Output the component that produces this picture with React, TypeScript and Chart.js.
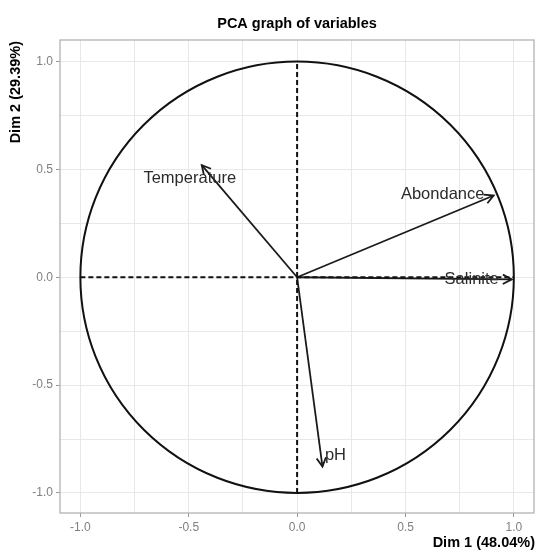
import { useEffect, useRef } from "react";
import { Chart, registerables } from "chart.js";

Chart.register(...registerables);

// ---- data ----
const variables = ["Temperature", "Abondance", "Salinite", "pH"];
const dim1 = [-0.44, 0.907, 0.99, 0.117];
const dim2 = [0.52, 0.379, -0.01, -0.878];
const gridValues = [-1, -0.75, -0.5, -0.25, 0, 0.25, 0.5, 0.75, 1];
const tickLabelValues = [-1, -0.5, 0, 0.5, 1];
const chartTitle = "PCA graph of variables";
const xTitle = "Dim 1 (48.04%)";
const yTitle = "Dim 2 (29.39%)";

// ---- styles (pixel offsets of each label from its arrow tip) ----
const labelStyle = [
  { dx: -12, dy: 13, align: "center" },
  { dx: -51, dy: -1, align: "center" },
  { dx: -40, dy: 0, align: "center" },
  { dx: 13, dy: -11, align: "center" },
];

const FONT = '"Liberation Sans", Arial, Helvetica, sans-serif';

export default function App() {
  const ref = useRef<HTMLCanvasElement>(null);

  useEffect(() => {
    const canvas = ref.current!;
    const lineBase = {
      showLine: true,
      pointRadius: 0,
      pointHoverRadius: 0,
      fill: false,
      tension: 0,
    };
    const datasets: any[] = [
      {
        ...lineBase,
        data: [
          { x: -1, y: 0 },
          { x: 1, y: 0 },
        ],
        borderColor: "#111",
        borderWidth: 2,
        borderDash: [5, 3],
      },
      {
        ...lineBase,
        data: [
          { x: 0, y: -1 },
          { x: 0, y: 1 },
        ],
        borderColor: "#111",
        borderWidth: 2,
        borderDash: [5, 3],
      },
    ];
    variables.forEach((name, i) => {
      datasets.push({
        ...lineBase,
        label: name,
        data: [
          { x: 0, y: 0 },
          { x: dim1[i], y: dim2[i] },
        ],
        borderColor: "#1a1a1a",
        borderWidth: 1.8,
      });
    });

    const decor = {
      id: "decor",
      beforeDatasetsDraw(chart: any) {
        const { ctx, chartArea: a, scales } = chart;
        const x = scales.x;
        const y = scales.y;
        ctx.save();
        ctx.strokeStyle = "#b3b3b3";
        ctx.lineWidth = 1.3;
        ctx.strokeRect(a.left, a.top, a.right - a.left, a.bottom - a.top);
        const cx = x.getPixelForValue(0);
        const cy = y.getPixelForValue(0);
        const rx = x.getPixelForValue(1) - cx;
        const ry = cy - y.getPixelForValue(1);
        ctx.beginPath();
        ctx.ellipse(cx, cy, rx, ry, 0, 0, Math.PI * 2);
        ctx.strokeStyle = "#111";
        ctx.lineWidth = 2;
        ctx.stroke();
        ctx.restore();
      },
      afterDatasetsDraw(chart: any) {
        const { ctx, scales } = chart;
        const x = scales.x;
        const y = scales.y;
        const ox = x.getPixelForValue(0);
        const oy = y.getPixelForValue(0);
        ctx.save();
        variables.forEach((name, i) => {
          const tx = x.getPixelForValue(dim1[i]);
          const ty = y.getPixelForValue(dim2[i]);
          const ang = Math.atan2(ty - oy, tx - ox);
          const len = 10;
          const spread = (28 * Math.PI) / 180;
          ctx.beginPath();
          ctx.moveTo(tx - len * Math.cos(ang - spread), ty - len * Math.sin(ang - spread));
          ctx.lineTo(tx, ty);
          ctx.lineTo(tx - len * Math.cos(ang + spread), ty - len * Math.sin(ang + spread));
          ctx.strokeStyle = "#1a1a1a";
          ctx.lineWidth = 1.8;
          ctx.stroke();

          const st = labelStyle[i];
          ctx.font = `16.5px ${FONT}`;
          ctx.fillStyle = "#2b2b2b";
          ctx.textAlign = st.align as CanvasTextAlign;
          ctx.textBaseline = "middle";
          ctx.fillText(name, tx + st.dx, ty + st.dy);
        });
        ctx.restore();
      },
      afterDraw(chart: any) {
        const { ctx, chartArea: a } = chart;
        ctx.save();
        ctx.fillStyle = "#000";
        ctx.font = `bold 14.5px ${FONT}`;
        ctx.textAlign = "center";
        ctx.textBaseline = "middle";
        ctx.fillText(chartTitle, (a.left + a.right) / 2, 24);

        ctx.textAlign = "right";
        ctx.textBaseline = "middle";
        ctx.fillText(xTitle, a.right + 1, 543);

        ctx.translate(16, a.top + 1);
        ctx.rotate(-Math.PI / 2);
        ctx.textAlign = "right";
        ctx.textBaseline = "middle";
        ctx.fillText(yTitle, 0, 0);
        ctx.restore();
      },
    };

    const tickOpts = {
      color: "#808080",
      font: { size: 12, family: FONT },
      autoSkip: false,
      maxRotation: 0,
      minRotation: 0,
      padding: 3,
      callback: (v: any) => {
        const n = Number(v);
        return tickLabelValues.some((t) => Math.abs(t - n) < 1e-9) ? n.toFixed(1) : "";
      },
    };
    const gridOpts = {
      color: "#e8e8e8",
      lineWidth: 1,
      drawTicks: true,
      tickLength: 4,
      tickColor: (c: any) => {
        const n = c.tick ? c.tick.value : 0;
        return tickLabelValues.some((t) => Math.abs(t - n) < 1e-9) ? "#9a9a9a" : "rgba(0,0,0,0)";
      },
    };

    const chart = new Chart(canvas, {
      type: "scatter",
      data: { datasets },
      plugins: [decor],
      options: {
        responsive: true,
        maintainAspectRatio: false,
        animation: false,
        layout: { padding: { top: 40, right: 2, left: 0, bottom: 0 } },
        plugins: {
          legend: { display: false },
          title: { display: false },
          tooltip: { enabled: false },
        },
        scales: {
          x: {
            type: "linear",
            min: -1.094,
            max: 1.093,
            afterBuildTicks: (s: any) => {
              s.ticks = gridValues.map((v) => ({ value: v }));
            },
            afterFit: (s: any) => {
              s.height = 38;
            },
            grid: gridOpts as any,
            border: { display: false },
            ticks: tickOpts as any,
          },
          y: {
            type: "linear",
            min: -1.093,
            max: 1.1,
            afterBuildTicks: (s: any) => {
              s.ticks = gridValues.map((v) => ({ value: v }));
            },
            afterFit: (s: any) => {
              s.width = 60;
            },
            grid: gridOpts as any,
            border: { display: false },
            ticks: tickOpts as any,
          },
        },
      } as any,
    });
    return () => chart.destroy();
  }, []);

  return (
    <div style={{ position: "fixed", left: 0, top: 0, width: 536, height: 551, background: "#fff" }}>
      <canvas ref={ref} />
    </div>
  );
}
